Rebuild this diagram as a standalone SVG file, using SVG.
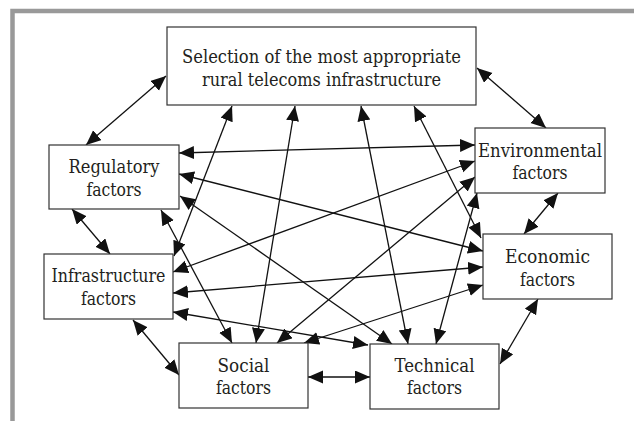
<svg xmlns="http://www.w3.org/2000/svg" width="634" height="421" viewBox="0 0 634 421">
<style>
.box{fill:#fff;stroke:#333;stroke-width:1.2}
.t{font-family:'DejaVu Serif','Liberation Serif',serif;font-size:19px;fill:#231f20;text-anchor:middle}
.c line{stroke:#111;stroke-width:1.3;marker-start:url(#ah);marker-end:url(#ah)}
</style>
<defs>
<marker id="ah" markerUnits="userSpaceOnUse" markerWidth="16" markerHeight="14" refX="15" refY="6.5" orient="auto-start-reverse">
<path d="M0,0 L15,6.5 L0,13 z" fill="#111"/>
</marker>
</defs>
<rect width="634" height="421" fill="#fff"/>
<path d="M12.5,421 V11 H634" fill="none" stroke="#999" stroke-width="4.5"/>
<g class="c" id="connectors">
<line x1="166" y1="76" x2="86" y2="145"/>
<line x1="477" y1="68" x2="546" y2="128"/>
<line x1="72" y1="209" x2="110" y2="254"/>
<line x1="558" y1="193" x2="524" y2="234"/>
<line x1="133" y1="320" x2="179" y2="375"/>
<line x1="308" y1="377" x2="370" y2="377"/>
<line x1="538" y1="299" x2="500" y2="364"/>
<line x1="179" y1="153" x2="475" y2="145"/>
<line x1="179" y1="174" x2="483" y2="251"/>
<line x1="180" y1="196" x2="392" y2="344"/>
<line x1="161" y1="210" x2="232" y2="343"/>
<line x1="232" y1="106" x2="174" y2="256"/>
<line x1="295" y1="106" x2="256" y2="343"/>
<line x1="361" y1="106" x2="408" y2="344"/>
<line x1="414" y1="106" x2="481" y2="238"/>
<line x1="173" y1="272" x2="475" y2="161"/>
<line x1="173" y1="293" x2="483" y2="267"/>
<line x1="173" y1="312" x2="368" y2="345"/>
<line x1="277" y1="343" x2="475" y2="177"/>
<line x1="304" y1="343" x2="483" y2="285"/>
<line x1="477" y1="193" x2="436" y2="344"/>
</g>
<g id="top">
<rect class="box" x="167" y="27" width="309" height="78"/>
<text class="t" x="321.5" y="63" textLength="279" lengthAdjust="spacingAndGlyphs">Selection of the most appropriate</text>
<text class="t" x="321.5" y="86" textLength="239" lengthAdjust="spacingAndGlyphs">rural telecoms infrastructure</text>
</g>
<g id="regulatory">
<rect class="box" x="49" y="145" width="130" height="64"/>
<text class="t" x="114" y="173" textLength="91" lengthAdjust="spacingAndGlyphs">Regulatory</text>
<text class="t" x="114" y="196" textLength="55" lengthAdjust="spacingAndGlyphs">factors</text>
</g>
<g id="environmental">
<rect class="box" x="475" y="128" width="130" height="65"/>
<text class="t" x="540" y="157" textLength="124" lengthAdjust="spacingAndGlyphs">Environmental</text>
<text class="t" x="540" y="179" textLength="55" lengthAdjust="spacingAndGlyphs">factors</text>
</g>
<g id="infrastructure">
<rect class="box" x="44" y="254" width="129" height="65"/>
<text class="t" x="108.5" y="282" textLength="114" lengthAdjust="spacingAndGlyphs">Infrastructure</text>
<text class="t" x="108.5" y="305" textLength="55" lengthAdjust="spacingAndGlyphs">factors</text>
</g>
<g id="economic">
<rect class="box" x="483" y="234" width="129" height="65"/>
<text class="t" x="547.5" y="263" textLength="85" lengthAdjust="spacingAndGlyphs">Economic</text>
<text class="t" x="547.5" y="286" textLength="55" lengthAdjust="spacingAndGlyphs">factors</text>
</g>
<g id="social">
<rect class="box" x="179" y="343" width="129" height="65"/>
<text class="t" x="243.5" y="372" textLength="52" lengthAdjust="spacingAndGlyphs">Social</text>
<text class="t" x="243.5" y="394" textLength="55" lengthAdjust="spacingAndGlyphs">factors</text>
</g>
<g id="technical">
<rect class="box" x="370" y="344" width="129" height="65"/>
<text class="t" x="434.5" y="372" textLength="80" lengthAdjust="spacingAndGlyphs">Technical</text>
<text class="t" x="434.5" y="394" textLength="55" lengthAdjust="spacingAndGlyphs">factors</text>
</g>
</svg>
